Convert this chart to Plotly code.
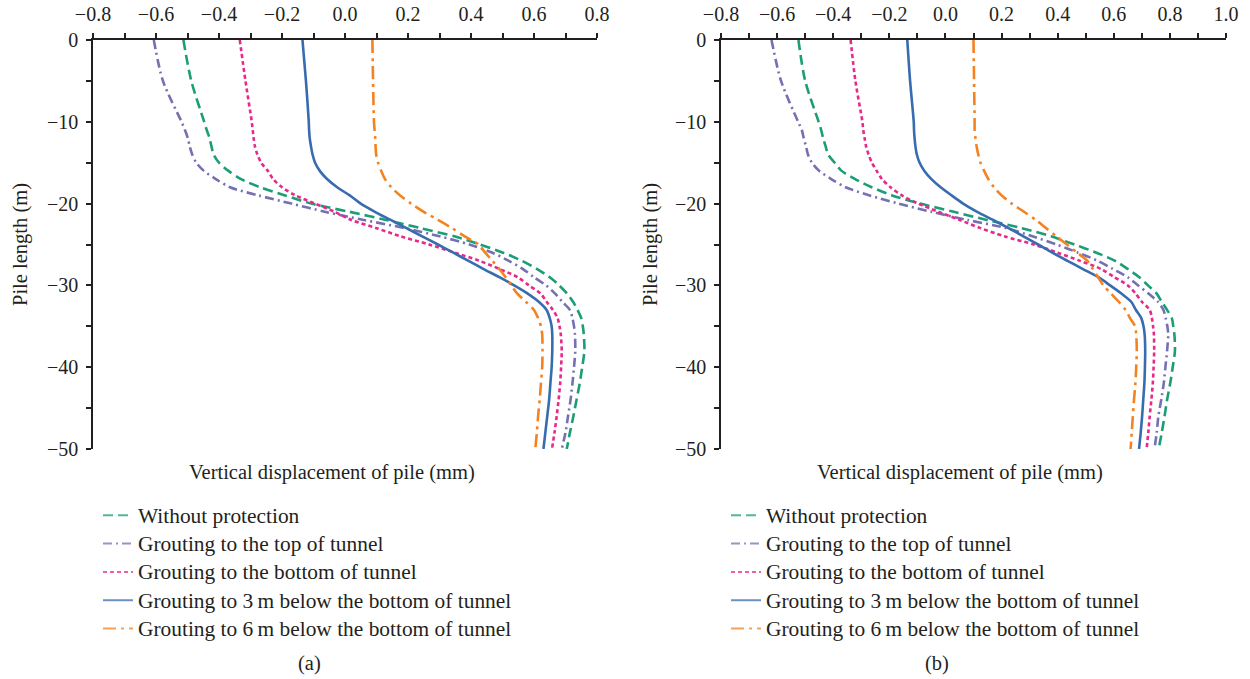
import plotly.graph_objects as go

# Depth along the pile (m), shared by every curve
DEPTH = [0, -5, -10, -11, -12, -13, -14, -15, -16, -17, -18, -19, -20, -21, -22,
         -23, -24, -25, -26, -27, -28, -29, -30, -31, -32, -33, -34, -35, -36,
         -38, -40, -42, -44, -46, -48, -50]

LABELS = [
    "Without protection",
    "Grouting to the top of tunnel",
    "Grouting to the bottom of tunnel",
    "Grouting to 3\u2009m below the bottom of tunnel",
    "Grouting to 6\u2009m below the bottom of tunnel",
]

# Panel (a): vertical displacement of pile (mm)
A_WITHOUT = [-0.513, -0.488, -0.447, -0.439, -0.430, -0.424, -0.417, -0.400, -0.370, -0.330,
             -0.270, -0.190, -0.107, 0.014, 0.130, 0.240, 0.347, 0.428, 0.502, 0.562,
             0.610, 0.650, 0.680, 0.705, 0.724, 0.738, 0.750, 0.755, 0.758, 0.760,
             0.753, 0.745, 0.735, 0.725, 0.714, 0.704]
A_TOP = [-0.607, -0.578, -0.519, -0.508, -0.499, -0.493, -0.485, -0.472, -0.448, -0.410,
         -0.365, -0.275, -0.170, -0.064, 0.060, 0.190, 0.300, 0.395, 0.468, 0.520,
         0.565, 0.600, 0.638, 0.667, 0.690, 0.714, 0.722, 0.727, 0.730, 0.731,
         0.727, 0.722, 0.716, 0.708, 0.700, 0.688]
A_BOTTOM = [-0.334, -0.316, -0.296, -0.293, -0.290, -0.286, -0.278, -0.266, -0.245, -0.228,
            -0.200, -0.157, -0.095, -0.033, 0.020, 0.100, 0.176, 0.267, 0.349, 0.427,
            0.491, 0.548, 0.584, 0.621, 0.640, 0.660, 0.675, 0.681, 0.685, 0.688,
            0.686, 0.683, 0.678, 0.672, 0.665, 0.657]
A_3M = [-0.135, -0.124, -0.115, -0.114, -0.112, -0.108, -0.103, -0.095, -0.080, -0.057,
        -0.025, 0.015, 0.050, 0.095, 0.145, 0.195, 0.245, 0.295, 0.344, 0.392,
        0.440, 0.490, 0.537, 0.580, 0.615, 0.640, 0.650, 0.656, 0.658, 0.658,
        0.656, 0.652, 0.648, 0.642, 0.636, 0.630]
A_6M = [0.087, 0.089, 0.092, 0.094, 0.096, 0.097, 0.099, 0.105, 0.115, 0.127,
        0.147, 0.175, 0.210, 0.250, 0.295, 0.340, 0.380, 0.424, 0.445, 0.468,
        0.490, 0.510, 0.528, 0.547, 0.574, 0.600, 0.613, 0.622, 0.626, 0.627,
        0.626, 0.622, 0.618, 0.613, 0.609, 0.604]

# Panel (b): vertical displacement of pile (mm)
B_WITHOUT = [-0.524, -0.500, -0.452, -0.443, -0.436, -0.427, -0.418, -0.395, -0.370, -0.322,
             -0.263, -0.190, -0.090, 0.030, 0.147, 0.272, 0.376, 0.460, 0.538, 0.605,
             0.650, 0.691, 0.722, 0.753, 0.771, 0.790, 0.807, 0.812, 0.816, 0.818,
             0.810, 0.801, 0.790, 0.781, 0.771, 0.760]
B_TOP = [-0.620, -0.586, -0.525, -0.512, -0.505, -0.497, -0.490, -0.476, -0.450, -0.407,
         -0.356, -0.270, -0.168, -0.050, 0.078, 0.218, 0.310, 0.396, 0.473, 0.543,
         0.597, 0.650, 0.687, 0.724, 0.757, 0.777, 0.785, 0.791, 0.794, 0.790,
         0.784, 0.778, 0.769, 0.759, 0.753, 0.745]
B_BOTTOM = [-0.338, -0.321, -0.296, -0.293, -0.288, -0.283, -0.274, -0.262, -0.245, -0.226,
            -0.196, -0.155, -0.097, -0.025, 0.051, 0.125, 0.210, 0.315, 0.400, 0.480,
            0.555, 0.602, 0.650, 0.678, 0.700, 0.728, 0.736, 0.740, 0.743, 0.744,
            0.742, 0.739, 0.734, 0.728, 0.723, 0.717]
B_3M = [-0.136, -0.126, -0.113, -0.112, -0.110, -0.107, -0.102, -0.092, -0.075, -0.050,
        -0.017, 0.022, 0.063, 0.113, 0.170, 0.225, 0.278, 0.330, 0.381, 0.435,
        0.490, 0.545, 0.587, 0.627, 0.662, 0.679, 0.698, 0.706, 0.710, 0.712,
        0.711, 0.709, 0.705, 0.701, 0.696, 0.690]
B_6M = [0.100, 0.102, 0.104, 0.104, 0.107, 0.111, 0.117, 0.125, 0.138, 0.153,
        0.173, 0.200, 0.236, 0.280, 0.322, 0.359, 0.396, 0.433, 0.470, 0.506,
        0.525, 0.544, 0.563, 0.590, 0.618, 0.642, 0.658, 0.676, 0.680, 0.682,
        0.680, 0.677, 0.672, 0.668, 0.664, 0.660]

PANEL_A = [A_WITHOUT, A_TOP, A_BOTTOM, A_3M, A_6M]
PANEL_B = [B_WITHOUT, B_TOP, B_BOTTOM, B_3M, B_6M]

W, H = 1250, 679
INK = "#231f20"
SERIF = "Liberation Serif, DejaVu Serif, serif"

STYLES = [
    dict(color="#1b9e77", dash="10px,5px"),
    dict(color="#7570b3", dash="9px,4px,2px,4px"),
    dict(color="#e7298a", dash="4px,3px"),
    dict(color="#386cb0", dash="solid"),
    dict(color="#f58220", dash="13px,5px,3px,5px"),
]


def fx(px):
    return px / W


def fy(px):
    return 1 - px / H


fig = go.Figure()

for panel, (xa, ya, leg) in zip([PANEL_A, PANEL_B], [("x", "y", "legend"), ("x2", "y2", "legend2")]):
    for values, style in zip(panel, STYLES):
        fig.add_trace(go.Scatter(
            x=values, y=DEPTH, xaxis=xa, yaxis=ya, mode="lines",
            line=dict(color=style["color"], dash=style["dash"], width=2.6,
                      shape="spline", smoothing=0.8),
            showlegend=False, hoverinfo="skip",
        ))
    # legend entries (lighter, thinner samples); the label text is set a little
    # larger than the row pitch so the rows stay compact
    for name, style in zip(LABELS, STYLES):
        fig.add_trace(go.Scatter(
            x=[None], y=[None], xaxis=xa, yaxis=ya, mode="lines",
            name=f'<span style="font-size:21.4px">{name}</span>',
            line=dict(color=style["color"], dash=style["dash"], width=2),
            opacity=0.75, legend=leg, showlegend=True,
        ))

tickfont = dict(family=SERIF, size=20, color=INK)


def x_axis(rng, left, right, anchor):
    return dict(
        domain=[fx(left), fx(right)], range=rng, anchor=anchor, side="top",
        showline=True, linecolor=INK, linewidth=1.5, mirror=False,
        ticks="outside", ticklen=5, tickwidth=1.5, tickcolor=INK,
        tick0=0, dtick=0.2, tickformat=".1f", tickfont=tickfont,
        minor=dict(ticks="outside", dtick=0.1, ticklen=5, tickwidth=1.5, tickcolor=INK),
        showgrid=False, zeroline=False, ticklabelstandoff=4, fixedrange=True,
        automargin=False,
    )


def y_axis(anchor):
    return dict(
        domain=[fy(449), fy(40)], range=[-50, 0], anchor=anchor, side="left",
        showline=True, linecolor=INK, linewidth=1.5,
        ticks="outside", ticklen=5, tickwidth=1.5, tickcolor=INK,
        tick0=0, dtick=10, tickfont=tickfont,
        minor=dict(ticks="outside", dtick=5, ticklen=5, tickwidth=1.5, tickcolor=INK),
        showgrid=False, zeroline=False, ticklabelstandoff=4, fixedrange=True,
        automargin=False,
    )


legend_common = dict(
    xanchor="left", yanchor="top", font=dict(family=SERIF, size=19.5, color=INK),
    bgcolor="rgba(0,0,0,0)", tracegroupgap=0, itemwidth=30,
)

text_font = dict(family=SERIF, size=20.5, color=INK)
annotations = []
for cx, title_x, cap_x, cap in [(20, 332, 309, "(a)"), (650, 960, 937, "(b)")]:
    annotations.append(dict(text="Pile length (m)", x=fx(cx), y=fy(245), xref="paper", yref="paper",
                            textangle=-90, showarrow=False, font=text_font,
                            xanchor="center", yanchor="middle"))
    annotations.append(dict(text="Vertical displacement of pile (mm)", x=fx(title_x), y=fy(472),
                            xref="paper", yref="paper", showarrow=False, font=text_font,
                            xanchor="center", yanchor="middle"))
    annotations.append(dict(text=cap, x=fx(cap_x), y=fy(663), xref="paper", yref="paper",
                            showarrow=False, font=text_font, xanchor="center", yanchor="middle"))

fig.update_layout(
    template="none",
    width=W, height=H, autosize=False,
    margin=dict(l=0, r=0, t=0, b=0, pad=0, autoexpand=False),
    paper_bgcolor="white", plot_bgcolor="white",
    xaxis=x_axis([-0.8, 0.8], 93, 597, "y"),
    yaxis=y_axis("x"),
    xaxis2=x_axis([-0.8, 1.0], 721, 1226, "y2"),
    yaxis2=y_axis("x2"),
    legend=dict(x=fx(98), y=fy(496), **legend_common),
    legend2=dict(x=fx(726), y=fy(496), **legend_common),
    annotations=annotations,
    font=dict(family=SERIF, color=INK),
    hovermode=False,
)

fig.write_html("out.html", config={"displayModeBar": False})
